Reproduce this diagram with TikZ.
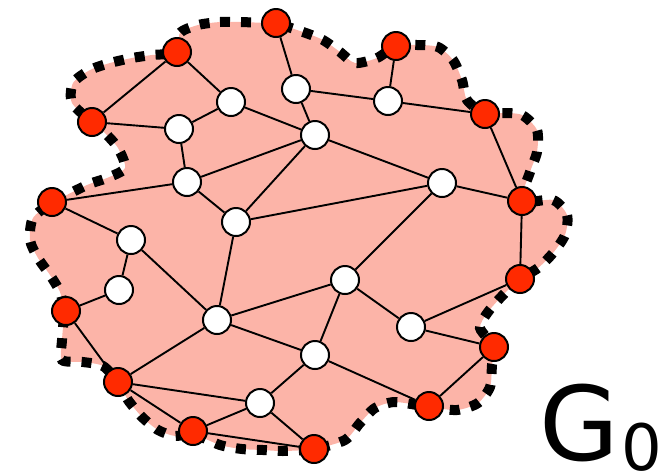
\documentclass[tikz,border=0pt]{standalone}
\usepackage{fontspec}
\newfontfamily\labelfont{DejaVu Sans}
\pgfdeclarelayer{region}
\pgfdeclarelayer{links}
\pgfsetlayers{region,links,main}
\begin{document}
\begin{tikzpicture}[x=1pt,y=-1pt,
  inner/.style={circle,draw=black,line width=2pt,fill=white,minimum size=28pt,inner sep=0pt},
  outer/.style={circle,draw=black,line width=2pt,fill=nodered,minimum size=28pt,inner sep=0pt},
  edge/.style={draw=black,line width=1.9pt},
  rim/.style={draw=black,line width=10pt,dash pattern=on 10pt off 11pt,fill=regionpink}]
\definecolor{nodered}{RGB}{255,42,0}
\definecolor{regionpink}{RGB}{252,180,168}
\useasboundingbox (0,0) rectangle (667,475);

% boundary vertices
\node[outer] (r1)  at (177,52)  {};
\node[outer] (r2)  at (276,23)  {};
\node[outer] (r3)  at (396,46)  {};
\node[outer] (r4)  at (485,114) {};
\node[outer] (r5)  at (522,201) {};
\node[outer] (r6)  at (520,279) {};
\node[outer] (r7)  at (494,347) {};
\node[outer] (r8)  at (429,406) {};
\node[outer] (r9)  at (314,449) {};
\node[outer] (r10) at (193,431) {};
\node[outer] (r11) at (118,382) {};
\node[outer] (r12) at (66,311)  {};
\node[outer] (r13) at (52,202)  {};
\node[outer] (r14) at (92,122)  {};

% interior vertices
\node[inner] (w1)  at (231,102) {};
\node[inner] (w2)  at (179,129) {};
\node[inner] (w3)  at (296,89)  {};
\node[inner] (w4)  at (315,135) {};
\node[inner] (w5)  at (388,101) {};
\node[inner] (w6)  at (187,182) {};
\node[inner] (w7)  at (236,222) {};
\node[inner] (w8)  at (442,183) {};
\node[inner] (w9)  at (131,240) {};
\node[inner] (w10) at (119,290) {};
\node[inner] (w11) at (217,320) {};
\node[inner] (w12) at (345,280) {};
\node[inner] (w13) at (411,327) {};
\node[inner] (w14) at (315,355) {};
\node[inner] (w15) at (260,403) {};

% region with its dotted rim
\begin{pgfonlayer}{region}
\path[rim] plot[smooth cycle,tension=0.45] coordinates {
  (198,25) (220,22) (240,22) (276,24) (303,32) (323,40) (340,52) (355,63)
  (377,58) (396,46) (417,45) (438,47) (453,60) (462,80) (467,100) (485,114)
  (502,113) (522,115) (537,130) (537,152) (530,172) (522,201) (553,200)
  (567,215) (565,235) (553,253) (538,268) (520,279) (503,295) (488,312)
  (480,328) (494,347) (492,365) (490,387) (478,403) (457,410) (429,407)
  (395,402) (375,408) (360,423) (345,440) (314,449) (283,451) (263,450)
  (242,449) (220,445) (193,434) (175,436) (158,430) (142,417) (128,400)
  (118,382) (103,366) (83,362) (62,360) (62,340) (64,311) (60,292) (50,275)
  (38,258) (30,240) (33,218) (52,203) (87,185) (107,178) (125,168) (118,148)
  (105,133) (92,122) (72,103) (73,83) (90,70) (110,63) (132,58) (152,55)
  (177,52) (180,33)};
\end{pgfonlayer}

% edges
\begin{pgfonlayer}{links}
\foreach \a/\b in {r1/r14,r1/w1,r2/w3,w1/w2,r14/w2,w1/w4,w3/w4,w3/w5,w5/r3,
  w5/r4,w4/w6,w4/w7,w2/w6,w6/r13,w6/w7,w7/w8,w4/w8,w8/r5,r4/r5,w8/w12,r5/r6,
  w7/w11,w9/r13,w9/w10,w9/w11,w10/r12,r12/r11,w11/r11,w11/w12,w11/w14,
  w12/w14,w12/w13,w13/r6,w13/r7,w14/r8,r7/r8,w14/w15,r11/w15,r11/r10,
  r10/w15,r10/r9,w15/r9}
  \draw[edge] (\a) -- (\b);
\end{pgfonlayer}

% graph label
\node[anchor=base west,inner sep=0pt,font=\labelfont\fontsize{103}{103}\selectfont] (gl) at (539,460) {G};
\node[anchor=base west,inner sep=0pt,font=\labelfont\fontsize{64}{64}\selectfont] (gs) at (621,470) {0};
\end{tikzpicture}
\end{document}
